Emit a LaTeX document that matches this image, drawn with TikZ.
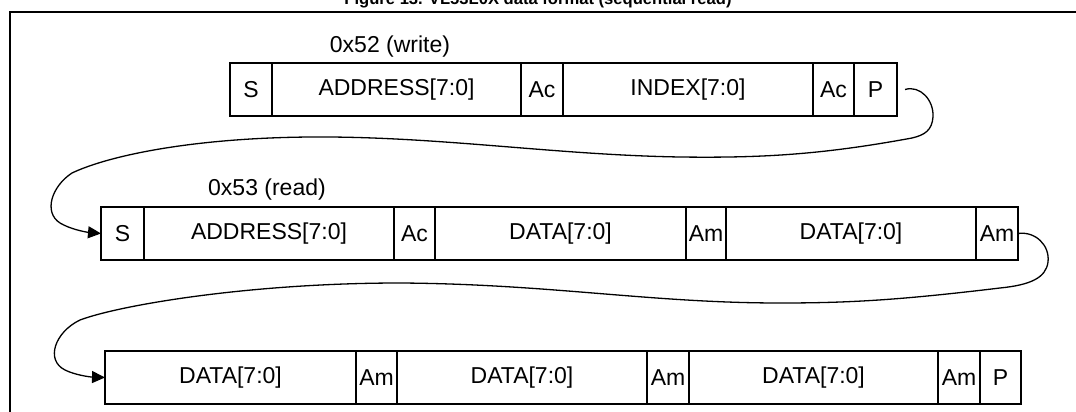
\documentclass[tikz,border=0pt]{standalone}
\usepackage{fontspec}
\setmainfont{Liberation Sans}
\usetikzlibrary{arrows.meta}
\begin{document}
\begin{tikzpicture}[x=1pt,y=-1pt,
  cell/.style={draw, line width=2.2pt, minimum height=53pt, inner sep=0pt, outer sep=0pt,
    font=\fontsize{23}{27}\selectfont, anchor=north west},
  lbl/.style={font=\fontsize{23}{27}\selectfont, inner sep=0pt},
  conn/.style={line width=1.3pt, -{Triangle[length=13pt,width=12pt]}},
  frame/.style={line width=2pt}]
\useasboundingbox (0,0) rectangle (1076,412);
\clip (0,0) rectangle (1076,412);
% title (partly cut by the top edge)
\node[font=\bfseries\fontsize{16.6}{20}\selectfont, anchor=base, inner sep=0pt] (title) at (538,5)
  {Figure 13. VL53L0X data format (sequential read)};
% frame
\draw[frame] (10,412) -- (10,12) -- (1076,12);
% row 1
\node[cell, minimum width=42pt]  (S1)  at (230,63) {S};
\node[cell, minimum width=249pt] (A1)  at (272,63) {ADDRESS[7:0]};
\node[cell, minimum width=42pt]  (Ac1) at (521,63) {Ac};
\node[cell, minimum width=250pt] (I1)  at (563,63) {INDEX[7:0]};
\node[cell, minimum width=41pt]  (Ac2) at (813,63) {Ac};
\node[cell, minimum width=43pt]  (P1)  at (854,63) {P};
\node[lbl] (L1) at (390,47) {0x52 (write)};
% row 2
\node[cell, minimum width=43pt]  (S2)  at (101,207) {S};
\node[cell, minimum width=250pt] (A2)  at (144,207) {ADDRESS[7:0]};
\node[cell, minimum width=41pt]  (Ac3) at (394,207) {Ac};
\node[cell, minimum width=251pt] (D1)  at (435,207) {DATA[7:0]};
\node[cell, minimum width=40pt]  (Am1) at (686,207) {Am};
\node[cell, minimum width=250pt] (D2)  at (726,207) {DATA[7:0]};
\node[cell, minimum width=42pt]  (Am2) at (976,207) {Am};
\node[lbl] (L2) at (267,190) {0x53 (read)};
% row 3
\node[cell, minimum width=251pt] (D3)  at (105,351) {DATA[7:0]};
\node[cell, minimum width=41pt]  (Am3) at (356,351) {Am};
\node[cell, minimum width=250pt] (D4)  at (397,351) {DATA[7:0]};
\node[cell, minimum width=42pt]  (Am4) at (647,351) {Am};
\node[cell, minimum width=249pt] (D5)  at (689,351) {DATA[7:0]};
\node[cell, minimum width=42pt]  (Am5) at (938,351) {Am};
\node[cell, minimum width=41pt]  (P2)  at (980,351) {P};
% connectors
\draw[conn] ([xshift=8pt]P1.east) .. controls (920,85) and (934,100) .. (933,117)
  .. controls (932,130) and (925,135) .. (912,138)
  .. controls (820,155) and (760,158) .. (680,157)
  .. controls (560,155) and (450,138) .. (330,137)
  .. controls (200,136) and (110,155) .. (72,173)
  .. controls (52,186) and (43,212) .. (60,223)
  .. controls (70,229) and (85,232) .. (S2.west);
\draw[conn] (Am2.east) .. controls (1035,231) and (1050,245) .. (1048,262)
  .. controls (1046,278) and (1030,285) .. (1000,288)
  .. controls (900,300) and (850,303) .. (780,303)
  .. controls (650,303) and (550,284) .. (400,283)
  .. controls (250,283) and (120,305) .. (80,320)
  .. controls (55,332) and (45,360) .. (65,370)
  .. controls (75,375) and (90,377) .. (D3.west);
\end{tikzpicture}
\end{document}
